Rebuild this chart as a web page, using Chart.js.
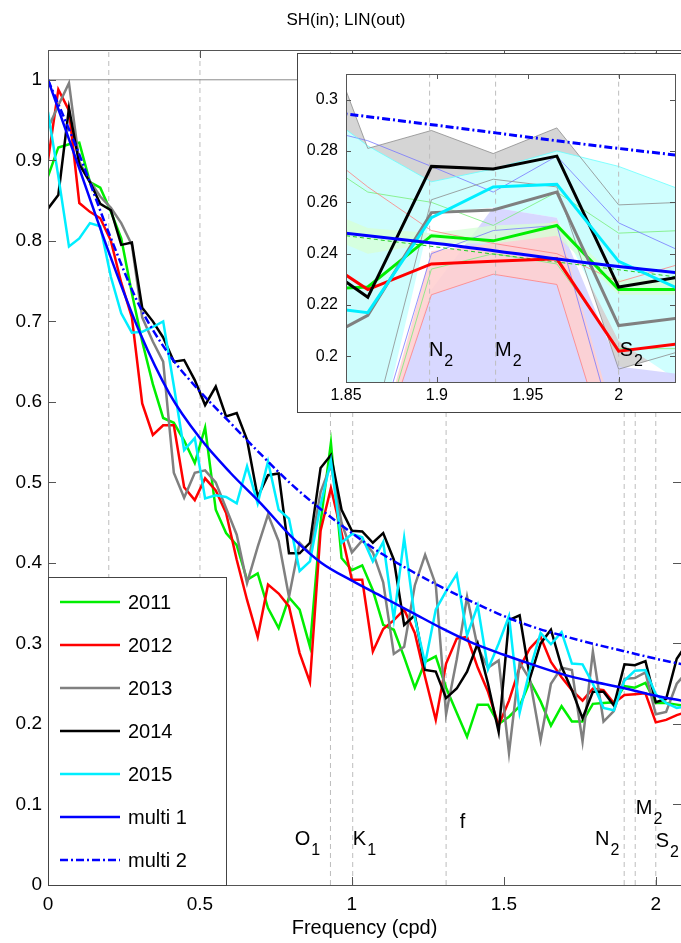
<!DOCTYPE html>
<html>
<head>
<meta charset="utf-8">
<script src="https://cdn.jsdelivr.net/npm/chart.js@4.4.0/dist/chart.umd.min.js"></script>
<style>
body { margin: 0; background: #fff; }
#wrap { position: relative; width: 681px; height: 943px; overflow: hidden; }
#main { position: absolute; left: 0; top: 0; }
#inset { position: absolute; left: 297px; top: 53px; }
</style>
</head>
<body>
<div id="wrap">
<canvas id="main" width="681" height="943"></canvas>
<canvas id="inset" width="384" height="360"></canvas>
</div>
<script>
// frequency grid (cpd)
var freq = [0, 0.034, 0.069, 0.103, 0.138, 0.172, 0.207, 0.241, 0.276, 0.310,
	0.345, 0.379, 0.414, 0.448, 0.483, 0.517, 0.552, 0.586, 0.621, 0.655,
	0.690, 0.724, 0.759, 0.793, 0.828, 0.862, 0.897, 0.931, 0.966, 1.000,
	1.034, 1.069, 1.103, 1.138, 1.172, 1.207, 1.241, 1.276, 1.310, 1.345,
	1.379, 1.414, 1.448, 1.483, 1.517, 1.552, 1.586, 1.621, 1.655, 1.690,
	1.724, 1.759, 1.793, 1.828, 1.862, 1.897, 1.931, 1.966, 2.000, 2.034,
	2.069, 2.103];

var y2011 = [0.880, 0.916, 0.920, 0.922, 0.873, 0.866, 0.836, 0.803, 0.735, 0.675,
	0.622, 0.580, 0.574, 0.552, 0.524, 0.568, 0.466, 0.437, 0.422, 0.379,
	0.387, 0.344, 0.319, 0.357, 0.342, 0.296, 0.450, 0.549, 0.406, 0.391,
	0.397, 0.366, 0.323, 0.317, 0.283, 0.245, 0.277, 0.284, 0.245, 0.214,
	0.184, 0.224, 0.224, 0.200, 0.209, 0.222, 0.253, 0.228, 0.198, 0.222,
	0.203, 0.203, 0.225, 0.226, 0.227, 0.247, 0.245, 0.251, 0.226, 0.226,
	0.224, 0.222];
var y2012 = [0.900, 0.988, 0.962, 0.847, 0.836, 0.828, 0.800, 0.748, 0.705, 0.598,
	0.559, 0.571, 0.571, 0.494, 0.478, 0.505, 0.490, 0.462, 0.404, 0.354,
	0.308, 0.373, 0.362, 0.346, 0.288, 0.252, 0.440, 0.493, 0.437, 0.379,
	0.379, 0.290, 0.318, 0.329, 0.342, 0.313, 0.258, 0.205, 0.275, 0.306,
	0.308, 0.270, 0.240, 0.198, 0.229, 0.270, 0.294, 0.308, 0.277, 0.258,
	0.242, 0.229, 0.244, 0.242, 0.226, 0.236, 0.237, 0.238, 0.202, 0.205,
	0.211, 0.215];
var y2013 = [0.940, 0.968, 0.996, 0.898, 0.874, 0.855, 0.841, 0.822, 0.795, 0.705,
	0.675, 0.650, 0.512, 0.481, 0.512, 0.515, 0.500, 0.468, 0.435, 0.375,
	0.420, 0.460, 0.427, 0.358, 0.425, 0.412, 0.488, 0.522, 0.450, 0.413,
	0.428, 0.413, 0.376, 0.287, 0.296, 0.372, 0.410, 0.373, 0.212, 0.280,
	0.358, 0.295, 0.270, 0.279, 0.164, 0.276, 0.255, 0.180, 0.250, 0.270,
	0.267, 0.178, 0.290, 0.203, 0.216, 0.256, 0.257, 0.264, 0.212, 0.215,
	0.250, 0.265];
var y2014 = [0.840, 0.857, 0.965, 0.895, 0.873, 0.846, 0.838, 0.795, 0.798, 0.717,
	0.700, 0.680, 0.650, 0.652, 0.627, 0.596, 0.619, 0.582, 0.586, 0.553,
	0.482, 0.509, 0.511, 0.412, 0.412, 0.425, 0.518, 0.534, 0.466, 0.440,
	0.439, 0.425, 0.437, 0.404, 0.323, 0.335, 0.267, 0.265, 0.232, 0.244,
	0.265, 0.300, 0.250, 0.190, 0.329, 0.335, 0.257, 0.300, 0.317, 0.271,
	0.242, 0.207, 0.240, 0.240, 0.223, 0.274, 0.273, 0.278, 0.227, 0.231,
	0.281, 0.300];
var y2015 = [0.960, 0.880, 0.793, 0.803, 0.822, 0.818, 0.755, 0.710, 0.686, 0.687,
	0.693, 0.700, 0.620, 0.540, 0.555, 0.480, 0.484, 0.482, 0.474, 0.520,
	0.474, 0.526, 0.466, 0.455, 0.390, 0.402, 0.472, 0.527, 0.425, 0.436,
	0.432, 0.402, 0.426, 0.330, 0.431, 0.332, 0.275, 0.342, 0.365, 0.386,
	0.310, 0.347, 0.268, 0.300, 0.334, 0.214, 0.268, 0.313, 0.299, 0.314,
	0.275, 0.274, 0.250, 0.220, 0.217, 0.254, 0.266, 0.267, 0.237, 0.226,
	0.220, 0.222];

// fitted curves, read every 0.1 cpd
var fitFreq = [0, 0.1, 0.2, 0.3, 0.4, 0.5, 0.6, 0.7, 0.8, 0.9, 1.0,
	1.1, 1.2, 1.3, 1.4, 1.5, 1.6, 1.7, 1.8, 1.9, 2.0, 2.1];
var multi1 = [1.000, 0.893, 0.786, 0.688, 0.610, 0.555, 0.512, 0.474, 0.433, 0.400, 0.378,
	0.358, 0.338, 0.318, 0.300, 0.286, 0.273, 0.261, 0.252, 0.244, 0.235, 0.228];
var multi2 = [1.000, 0.910, 0.810, 0.720, 0.658, 0.613, 0.574, 0.535, 0.498, 0.466, 0.437,
	0.411, 0.389, 0.369, 0.351, 0.334, 0.320, 0.309, 0.299, 0.290, 0.281, 0.273];

// dashed reference frequencies
var markFreq = [0.2, 0.5, 0.9295, 1.0027, 1.31, 1.896, 1.9323, 2.0];
var insetMarkFreq = [1.896, 1.9323, 2.0];

// tick labels
var xTicks = [0, 0.5, 1, 1.5, 2];
var yTicks = [0, 0.1, 0.2, 0.3, 0.4, 0.5, 0.6, 0.7, 0.8, 0.9, 1];
var insetXTicks = [1.85, 1.9, 1.95, 2];
var insetYTicks = [0.2, 0.22, 0.24, 0.26, 0.28, 0.3];

// inset shaded spreads
var bandFreq = [1.828, 1.862, 1.897, 1.931, 1.966, 2.000, 2.034];
var grayHi  = [0.345, 0.281, 0.288, 0.279, 0.289, 0.259, 0.260];
var grayLo  = [0.100, 0.165, 0.261, 0.269, 0.266, 0.195, 0.202];
var cyanHi  = [0.300, 0.282, 0.268, 0.273, 0.280, 0.274, 0.265];
var cyanLo  = [0.150, 0.150, 0.256, 0.258, 0.254, 0.206, 0.190];
var blueHi  = [0.100, 0.150, 0.226, 0.258, 0.254, 0.196, 0.193];
var blueLo  = [0.100, 0.100, 0.100, 0.100, 0.100, 0.100, 0.100];
var redHi   = [0.150, 0.150, 0.241, 0.244, 0.253, 0.170, 0.150];
var redLo   = [0.150, 0.150, 0.224, 0.232, 0.228, 0.150, 0.150];
var greenHi = [0.260, 0.250, 0.248, 0.251, 0.252, 0.230, 0.230];
var greenLo = [0.250, 0.240, 0.244, 0.244, 0.247, 0.224, 0.224];
// thin spread edges
var thinGrayA  = [0.345, 0.281, 0.288, 0.279, 0.289, 0.259, 0.260];
var thinGrayB  = [0.100, 0.165, 0.261, 0.269, 0.266, 0.195, 0.202];
var thinCyanA  = [0.300, 0.282, 0.268, 0.273, 0.280, 0.274, 0.265];
var thinBlueA  = [0.290, 0.284, 0.274, 0.264, 0.278, 0.252, 0.241];
var thinBlueB  = [0.080, 0.157, 0.240, 0.249, 0.251, 0.165, 0.150];
var thinRedA   = [0.285, 0.266, 0.249, 0.244, 0.240, 0.229, 0.236];
var thinRedB   = [0.100, 0.150, 0.224, 0.232, 0.228, 0.150, 0.150];
var thinGreenA = [0.280, 0.264, 0.260, 0.251, 0.264, 0.248, 0.249];
var thinGreenB = [0.100, 0.150, 0.234, 0.240, 0.236, 0.203, 0.203];
var greenFitFreq = [1.85, 2.031];
var greenFit = [0.247, 0.231];

var FONT = "'Liberation Sans', Arial, Helvetica, sans-serif";

function pts(xs, ys) {
	return xs.map(function(x, i) { return { x: x, y: ys[i] }; });
}

function series(label, xs, ys, color, width, extra) {
	return Object.assign({
		label: label, data: pts(xs, ys), borderColor: color, backgroundColor: color,
		borderWidth: width, pointRadius: 0, fill: false, tension: 0
	}, extra || {});
}

function fmt(v) { return String(parseFloat(v.toFixed(3))); }

function markLines(list, top, order) {
	return list.map(function(f) {
		return series('', [f, f], [0, top], '#bdbdbd', 1, { borderDash: [5, 4], order: order });
	});
}

var styles = [
	{ name: '2011', ys: y2011, color: '#00ee00' },
	{ name: '2012', ys: y2012, color: '#ff0000' },
	{ name: '2013', ys: y2013, color: '#808080' },
	{ name: '2014', ys: y2014, color: '#000000' },
	{ name: '2015', ys: y2015, color: '#00eeff' }
];

function mainSets(lw) {
	var sets = [];
	styles.forEach(function(s, i) {
		sets.push(series(s.name, freq, s.ys, s.color, lw, { order: -i, legend: true }));
	});
	sets.push(series('multi 1', fitFreq, multi1, '#0000ff', lw, { order: -6, legend: true, cubicInterpolationMode: 'monotone' }));
	sets.push(series('multi 2', fitFreq, multi2, '#0000ff', lw, { order: -7, legend: true, cubicInterpolationMode: 'monotone', borderDash: [8, 3, 2, 3] }));
	return sets;
}

function innerTicks(ctx, a, xs, ys, sx, sy, len) {
	ctx.beginPath();
	xs.forEach(function(v) {
		var p = Math.round(sx.getPixelForValue(v)) + 0.5;
		ctx.moveTo(p, a.bottom); ctx.lineTo(p, a.bottom - len);
		ctx.moveTo(p, a.top); ctx.lineTo(p, a.top + len);
	});
	ys.forEach(function(v) {
		var p = Math.round(sy.getPixelForValue(v)) + 0.5;
		ctx.moveTo(a.left, p); ctx.lineTo(a.left + len, p);
		ctx.moveTo(a.right, p); ctx.lineTo(a.right - len, p);
	});
	ctx.stroke();
}

function subLabel(ctx, text, sub, x, y, size) {
	ctx.font = size + 'px ' + FONT;
	ctx.textAlign = 'left';
	ctx.textBaseline = 'alphabetic';
	ctx.fillText(text, x, y);
	var w = ctx.measureText(text).width;
	if (sub) {
		ctx.font = Math.round(size * 0.8) + 'px ' + FONT;
		ctx.fillText(sub, x + w + 1, y + 10);
	}
}

// main plot labels: text, subscript, anchor in data units
var mainLabels = [
	{ t: 'O', s: '1', x: 0.812, y: 0.050 },
	{ t: 'K', s: '1', x: 1.003, y: 0.050 },
	{ t: 'f', s: '', x: 1.355, y: 0.071 },
	{ t: 'N', s: '2', x: 1.800, y: 0.050 },
	{ t: 'M', s: '2', x: 1.934, y: 0.088 },
	{ t: 'S', s: '2', x: 2.000, y: 0.047 }
];
var insetLabels = [
	{ t: 'N', s: '2', x: 1.8956, y: 0.2 },
	{ t: 'M', s: '2', x: 1.932, y: 0.2 },
	{ t: 'S', s: '2', x: 2.0006, y: 0.2 }
];

var mainDeco = {
	id: 'mainDeco',
	beforeDraw: function(chart) {
		var ctx = chart.ctx;
		ctx.save();
		ctx.fillStyle = '#fff';
		ctx.fillRect(0, 0, chart.width, chart.height);
		ctx.fillStyle = '#000';
		ctx.font = '17px ' + FONT;
		ctx.textAlign = 'center';
		ctx.textBaseline = 'middle';
		ctx.fillText('SH(in); LIN(out)', 346, 20);
		ctx.restore();
	},
	afterDraw: function(chart) {
		var ctx = chart.ctx, a = chart.chartArea, sx = chart.scales.x, sy = chart.scales.y;
		ctx.save();
		ctx.strokeStyle = '#555';
		ctx.lineWidth = 1;
		ctx.strokeRect(a.left + 0.5, a.top + 0.5, a.right - a.left + 10, a.bottom - a.top);
		innerTicks(ctx, a, xTicks, yTicks, sx, sy, 8);

		ctx.fillStyle = '#000';
		mainLabels.forEach(function(l) {
			subLabel(ctx, l.t, l.s, sx.getPixelForValue(l.x), sy.getPixelForValue(l.y), 20);
		});

		// legend box
		var bx = a.left + 0.5, by = 577.5, bw = 178, bh = a.bottom - 577;
		ctx.fillStyle = '#fff';
		ctx.fillRect(bx, by, bw, bh);
		ctx.strokeStyle = '#444';
		ctx.strokeRect(bx, by, bw, bh);
		var items = chart.data.datasets.filter(function(d) { return d.legend; });
		items.forEach(function(d, i) {
			var yy = 602 + i * 43;
			ctx.beginPath();
			ctx.strokeStyle = d.borderColor;
			ctx.lineWidth = 2.5;
			ctx.setLineDash(d.borderDash || []);
			ctx.moveTo(60, yy); ctx.lineTo(120, yy);
			ctx.stroke();
			ctx.setLineDash([]);
			ctx.fillStyle = '#000';
			ctx.font = '20px ' + FONT;
			ctx.textAlign = 'left';
			ctx.textBaseline = 'middle';
			ctx.fillText(d.label, 128, yy + 1);
		});
		ctx.restore();
	}
};

var insetDeco = {
	id: 'insetDeco',
	beforeDraw: function(chart) {
		var ctx = chart.ctx;
		ctx.save();
		ctx.fillStyle = '#fff';
		ctx.fillRect(0, 0, chart.width, chart.height);
		ctx.strokeStyle = '#444';
		ctx.lineWidth = 1;
		ctx.strokeRect(0.5, 0.5, chart.width + 10, chart.height - 1);
		ctx.restore();
	},
	afterDraw: function(chart) {
		var ctx = chart.ctx, a = chart.chartArea, sx = chart.scales.x, sy = chart.scales.y;
		ctx.save();
		ctx.strokeStyle = '#555';
		ctx.lineWidth = 1;
		ctx.strokeRect(a.left + 0.5, a.top + 0.5, a.right - a.left, a.bottom - a.top);
		innerTicks(ctx, a, insetXTicks, insetYTicks, sx, sy, 5);
		ctx.fillStyle = '#000';
		insetLabels.forEach(function(l) {
			subLabel(ctx, l.t, l.s, sx.getPixelForValue(l.x), sy.getPixelForValue(l.y), 20);
		});
		ctx.restore();
	}
};

function tickFont(size) { return { family: FONT, size: size }; }

function load() {
	var mSets = markLines(markFreq, 1.04, 20);
	mSets.push(series('', [0, 2.2], [1, 1], '#8c8c8c', 1, { order: 19 }));
	mSets = mSets.concat(mainSets(2.5));

	new Chart(document.getElementById('main'), {
		type: 'line',
		data: { datasets: mSets },
		options: {
			responsive: false, animation: false, devicePixelRatio: 1,
			layout: { padding: { top: 50, right: 0, left: 0, bottom: 0 } },
			plugins: { legend: { display: false }, tooltip: { enabled: false }, title: { display: false } },
			scales: {
				x: {
					type: 'linear', min: 0, max: 2.083,
					afterBuildTicks: function(s) { s.ticks = xTicks.map(function(v) { return { value: v }; }); },
					afterFit: function(s) { s.height = 58; },
					grid: { display: false, drawTicks: false }, border: { display: false },
					ticks: { font: tickFont(19), color: '#000', padding: 8, maxRotation: 0, autoSkip: false, callback: fmt },
					title: { display: true, text: 'Frequency (cpd)', font: tickFont(20), color: '#000', padding: { top: 0, bottom: 3 } }
				},
				y: {
					type: 'linear', min: 0, max: 1.037,
					afterBuildTicks: function(s) { s.ticks = yTicks.map(function(v) { return { value: v }; }); },
					afterFit: function(s) { s.width = 48; },
					grid: { display: false, drawTicks: false }, border: { display: false },
					ticks: { font: tickFont(19), color: '#000', padding: 6, autoSkip: false, callback: fmt }
				}
			}
		},
		plugins: [mainDeco]
	});

	var fills = [
		{ hi: grayHi, lo: grayLo, fill: 'rgba(208,208,208,0.9)' },
		{ hi: cyanHi, lo: cyanLo, fill: 'rgba(205,255,255,0.95)' },
		{ hi: blueHi, lo: blueLo, fill: 'rgba(212,212,255,0.9)' },
		{ hi: redHi, lo: redLo, fill: 'rgba(255,208,208,0.9)' },
		{ hi: greenHi, lo: greenLo, fill: 'rgba(215,255,215,0.8)' }
	];
	var thin = [
		{ ys: thinGrayA, c: '#8c8c8c' }, { ys: thinGrayB, c: '#8c8c8c' },
		{ ys: thinCyanA, c: '#66ffff' },
		{ ys: thinBlueA, c: '#7777ff' }, { ys: thinBlueB, c: '#7777ff' },
		{ ys: thinRedA, c: '#ff8080' }, { ys: thinRedB, c: '#ff8080' },
		{ ys: thinGreenA, c: '#77ee77' }, { ys: thinGreenB, c: '#77ee77' }
	];
	var iSets = [];
	fills.forEach(function(b, i) {
		iSets.push(series('', bandFreq, b.hi, 'rgba(0,0,0,0)', 0, { fill: '+1', backgroundColor: b.fill, order: 40 - 2 * i }));
		iSets.push(series('', bandFreq, b.lo, 'rgba(0,0,0,0)', 0, { order: 39 - 2 * i }));
	});
	thin.forEach(function(t) {
		iSets.push(series('', bandFreq, t.ys, t.c, 0.8, { order: 25 }));
	});
	iSets = iSets.concat(markLines(insetMarkFreq, 0.4, 20));
	iSets.push(series('', greenFitFreq, greenFit, '#22cc22', 1, { borderDash: [4, 3], order: 15 }));
	iSets = iSets.concat(mainSets(3));

	new Chart(document.getElementById('inset'), {
		type: 'line',
		data: { datasets: iSets },
		options: {
			responsive: false, animation: false, devicePixelRatio: 1,
			layout: { padding: { top: 21, right: 6, left: 0, bottom: 0 } },
			plugins: { legend: { display: false }, tooltip: { enabled: false }, title: { display: false } },
			scales: {
				x: {
					type: 'linear', min: 1.85, max: 2.031,
					afterBuildTicks: function(s) { s.ticks = insetXTicks.map(function(v) { return { value: v }; }); },
					afterFit: function(s) { s.height = 31; },
					grid: { display: false, drawTicks: false }, border: { display: false },
					ticks: { font: tickFont(16), color: '#000', padding: 4, maxRotation: 0, autoSkip: false, callback: fmt }
				},
				y: {
					type: 'linear', min: 0.19, max: 0.31,
					afterBuildTicks: function(s) { s.ticks = insetYTicks.map(function(v) { return { value: v }; }); },
					afterFit: function(s) { s.width = 49; },
					grid: { display: false, drawTicks: false }, border: { display: false },
					ticks: { font: tickFont(16), color: '#000', padding: 8, autoSkip: false, callback: fmt }
				}
			}
		},
		plugins: [insetDeco]
	});
}

window.onload = function() {
	load();
}
</script>
</body>
</html>
